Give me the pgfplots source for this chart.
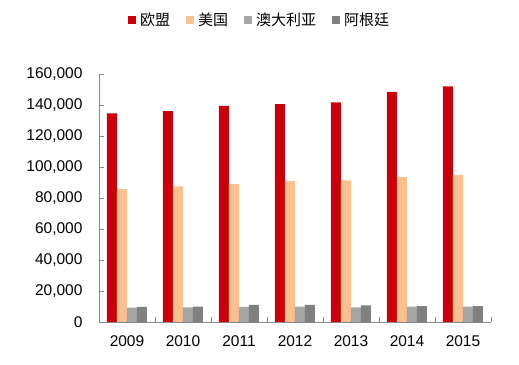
\documentclass[border=0pt]{standalone}
\usepackage{fontspec}
\setmainfont{Liberation Sans}
\newfontfamily\cjk{Noto Sans CJK SC}
\usepackage{pgfplots}
\pgfplotsset{compat=1.18}
\definecolor{cEU}{RGB}{200,0,12}
\definecolor{cUS}{RGB}{250,192,144}
\definecolor{cAU}{RGB}{166,166,166}
\definecolor{cAR}{RGB}{128,128,128}
\definecolor{axgray}{RGB}{134,134,134}
\begin{document}
\begin{tikzpicture}
\useasboundingbox (0,0) rectangle (519bp,365bp);
\begin{axis}[
  at={(99bp,43bp)}, anchor=south west,
  width=392bp, height=248bp, scale only axis,
  ybar=0pt, bar width=10bp,
  xmin=-0.5, xmax=6.5,
  ymin=0, ymax=160000,
  xtick={0,1,2,3,4,5,6},
  xticklabels={2009,2010,2011,2012,2013,2014,2015},
  minor xtick={0.5,1.5,2.5,3.5,4.5,5.5,6.5},
  ytick={0,20000,40000,60000,80000,100000,120000,140000,160000},
  yticklabels={0,{20,000},{40,000},{60,000},{80,000},{100,000},{120,000},{140,000},{160,000}},
  scaled y ticks=false,
  axis lines=left,
  axis line style={-, draw=axgray, line width=0.8pt},
  tick align=inside,
  major tick length=5bp, minor tick length=5bp,
  every tick/.style={draw=axgray, line width=0.8pt},
  major x tick style={draw=none},
  tick label style={font=\fontsize{15.5bp}{18bp}\selectfont, text=black},
  yticklabel style={xshift=-13bp},
  xticklabel style={yshift=-10bp},
  legend columns=-1,
  legend image code/.code={\fill[#1,draw=none] (0bp,-4bp) rectangle (8bp,4bp);},
  legend style={at={(0.41,1.218)}, anchor=center, draw=none, fill=none,
    font=\cjk\fontsize{15bp}{17bp}\selectfont,
    /tikz/every odd column/.append style={column sep=2bp},
    /tikz/every even column/.append style={column sep=14bp}},
]
\addplot[fill=cEU, draw=none] coordinates {(0,134600) (1,136100) (2,139400) (3,140600) (4,141700) (5,148400) (6,152000)};
\addplot[fill=cUS, draw=none] coordinates {(0,85800) (1,87500) (2,89000) (3,91000) (4,91400) (5,93500) (6,94800)};
\addplot[fill=cAU, draw=none] coordinates {(0,9200) (1,9500) (2,9700) (3,9900) (4,9500) (5,9900) (6,9900)};
\addplot[fill=cAR, draw=none] coordinates {(0,9700) (1,9900) (2,11000) (3,11000) (4,10800) (5,10300) (6,10300)};
\legend{欧盟,美国,澳大利亚,阿根廷}
\end{axis}
\end{tikzpicture}
\end{document}
